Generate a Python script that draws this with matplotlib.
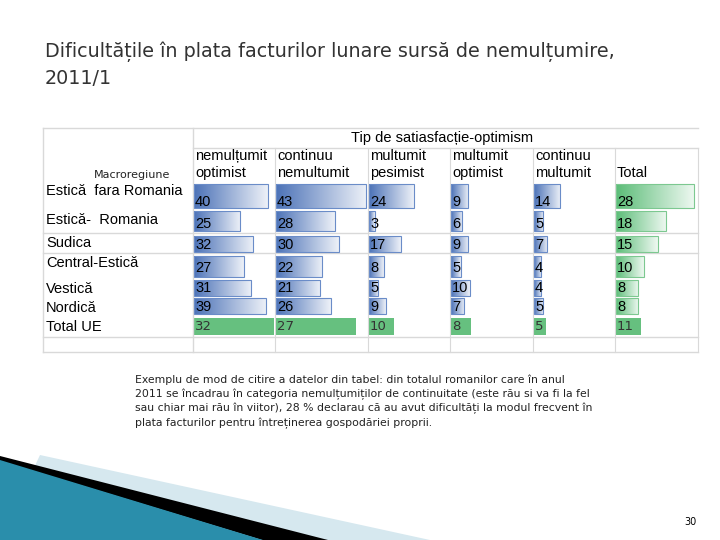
import numpy as np
import matplotlib.pyplot as plt
from matplotlib.patches import Rectangle, Polygon

# date tabel
regiuni = ["Estică  fara Romania", "Estică-  Romania", "Sudica", "Central-Estică",
           "Vestică", "Nordică", "Total UE"]
coloane = [["nemulțumit", "optimist"], ["continuu", "nemultumit"], ["multumit", "pesimist"],
           ["multumit", "optimist"], ["continuu", "multumit"], ["", "Total"]]
nemultumit_optimist = [40, 25, 32, 27, 31, 39, 32]
continuu_nemultumit = [43, 28, 30, 22, 21, 26, 27]
multumit_pesimist = [24, 3, 17, 8, 5, 9, 10]
multumit_optimist = [9, 6, 9, 5, 10, 7, 8]
continuu_multumit = [14, 5, 7, 4, 4, 5, 5]
total = [28, 18, 15, 10, 8, 8, 11]
valori = [nemultumit_optimist, continuu_nemultumit, multumit_pesimist,
          multumit_optimist, continuu_multumit, total]

# pozitii (pixeli)
col_x = [193, 275, 368, 450, 533, 615]
scala_albastru = [1.85, 2.1, 1.87, 1.9, 1.87, 2.8]
scala_verde = [2.5, 2.95, 2.5, 2.5, 2.3, 2.3]
rand_bar = [(184, 208), (211, 231), (236, 252), (256, 277), (280, 296), (298, 314), (318, 335)]
rand_text = [202, 224, 245, 268, 288, 307, 327]
rand_eticheta = [191, 220, 243, 263, 289, 308, 327]

fig = plt.figure(figsize=(7.2, 5.4), dpi=100)
ax = fig.add_axes([0, 0, 1, 1])
ax.set_xlim(0, 720)
ax.set_ylim(540, 0)
ax.axis('off')

# titlu
ax.text(45, 52, "Dificultățile în plata facturilor lunare sursă de nemulțumire,",
        fontsize=13.8, color='#333333', va='center')
ax.text(45, 78, "2011/1", fontsize=13.8, color='#333333', va='center')

# linii tabel
lc = '#d9d9d9'
ax.plot([43, 698], [128, 128], color=lc, lw=1)
ax.plot([193, 698], [148, 148], color=lc, lw=1)
for y in [233, 253, 337, 352]:
    ax.plot([43, 698], [y, y], color=lc, lw=1)
ax.plot([43, 43], [128, 352], color=lc, lw=1)
ax.plot([193, 193], [128, 352], color=lc, lw=1)
for x in col_x[1:] + [698]:
    ax.plot([x, x], [148, 352], color=lc, lw=0.8)

ax.text(442, 138, "Tip de satiasfacție-optimism", fontsize=10.5, family='Liberation Sans',
        ha='center', va='center')
ax.text(132, 175, "Macroregiune", fontsize=8, ha='center', va='center', color='#222222')
for j, (l1, l2) in enumerate(coloane):
    ax.text(col_x[j] + 2, 156, l1, fontsize=10.5, family='Liberation Sans', va='center')
    ax.text(col_x[j] + 2, 173, l2, fontsize=10.5, family='Liberation Sans', va='center')

grad = np.linspace(0, 1, 100).reshape(1, -1)
albastru = np.array([0.30, 0.45, 0.72])
verde = np.array([0.36, 0.74, 0.47])

for i, reg in enumerate(regiuni):
    ax.text(46, rand_eticheta[i], reg, fontsize=10.5, family='Liberation Sans', va='center')
    y0, y1 = rand_bar[i]
    for j in range(6):
        v = valori[j][i]
        x0 = col_x[j] + 1
        if i == len(regiuni) - 1:
            w = v * scala_verde[j]
            ax.add_patch(Rectangle((x0, y0), w, y1 - y0, color='#66c07f', lw=0))
            ax.text(x0 + 1, rand_text[i], str(v), fontsize=9.5, color='#333333', va='center')
            continue
        w = v * scala_albastru[j]
        c = verde if j == 5 else albastru
        img = np.ones((1, 100, 3)) * (c + (1 - c) * grad.T.reshape(-1, 1) * 0.9)
        ax.imshow(img, extent=(x0, x0 + w, y1, y0), aspect='auto', zorder=2)
        ax.add_patch(Rectangle((x0, y0), w, y1 - y0, fill=False,
                               ec='#6a8cc8' if j < 5 else '#7cc890', lw=0.8, zorder=3))
        ax.text(x0 + 1, rand_text[i], str(v), fontsize=10.5, family='Liberation Sans',
                va='center', zorder=4)

# nota
nota = ["Exemplu de mod de citire a datelor din tabel: din totalul romanilor care în anul",
        "2011 se încadrau în categoria nemulțumiților de continuitate (este rău si va fi la fel",
        "sau chiar mai rău în viitor), 28 % declarau că au avut dificultăți la modul frecvent în",
        "plata facturilor pentru întreținerea gospodăriei proprii."]
for k, t in enumerate(nota):
    ax.text(135, 380 + 14.3 * k, t, fontsize=7.8, color='#222222', va='center')

ax.text(697, 522, "30", fontsize=7, ha='right', va='center')

# decor jos
ax.add_patch(Polygon([(40, 455), (430, 540), (0, 540)], color='#d6e8ef', lw=0))
ax.add_patch(Polygon([(0, 456), (328, 540), (262, 540), (0, 461)], color='black', lw=0))
ax.add_patch(Polygon([(0, 460), (263, 540), (0, 540)], color='#2a8eab', lw=0))
ax.set_xlim(0, 720)
ax.set_ylim(540, 0)

fig.savefig("out.png", dpi=100)
